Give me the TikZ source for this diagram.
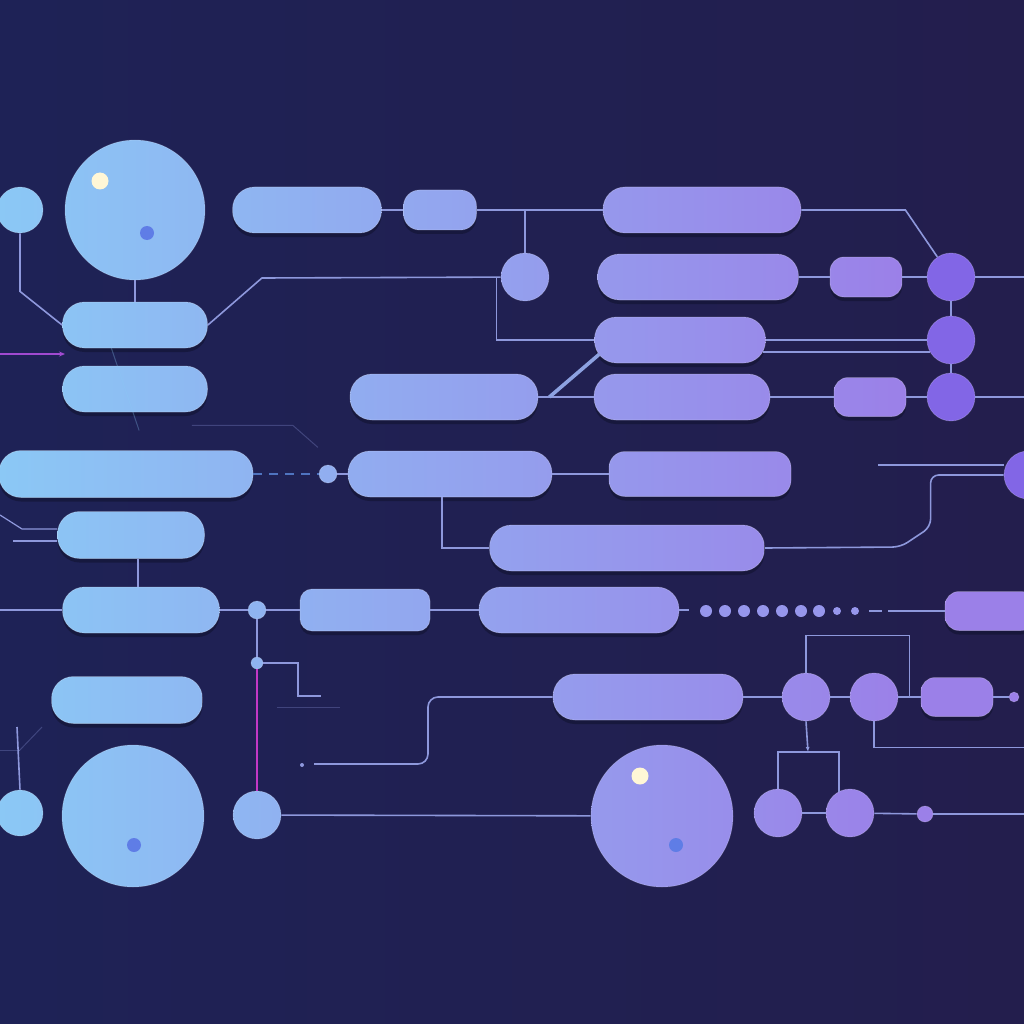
\documentclass[tikz,border=0pt]{standalone}
\usepackage{tikz}
\usetikzlibrary{positioning, calc, shadows, arrows.meta}
\usepackage{xcolor}

\definecolor{bgleft}{HTML}{1E2256}
\definecolor{bgright}{HTML}{231E4D}
\definecolor{skyb}{HTML}{8BC8F5}
\definecolor{viol}{HTML}{9B80E8}
\definecolor{deepv}{HTML}{8266E6}
\definecolor{wirec}{HTML}{8E98DC}
\definecolor{dashc}{HTML}{4F74C0}
\definecolor{magc}{HTML}{C238C6}
\definecolor{arrc}{HTML}{A04AD0}
\definecolor{dotb}{HTML}{5F7DE6}
\definecolor{glint}{HTML}{FFF7D6}
\definecolor{shadc}{HTML}{10122E}

\tikzset{
  pill/.style={rectangle, inner sep=0pt, draw=white, draw opacity=0.22, line width=0.8pt,
    drop shadow={fill=shadc, opacity=0.55, shadow xshift=0pt, shadow yshift=-4pt}},
  knob/.style={circle, inner sep=0pt, draw=white, draw opacity=0.18, line width=0.8pt},
  wire/.style={draw=wirec, line width=1.6pt},
  faint/.style={draw=wirec, line width=1pt, opacity=0.3},
  magline/.style={draw=magc, line width=2.4pt},
}

% pill: name, x, y, width, height, corner radius
\newcommand{\pillnode}[6]{%
  \pgfmathtruncatemacro\pl{min(100,max(0,((#2)-(#4)/2)/9))}%
  \pgfmathtruncatemacro\pr{min(100,max(0,((#2)+(#4)/2)/9))}%
  \node[pill, minimum width=#4, minimum height=#5, rounded corners=#6,
    left color=viol!\pl!skyb, right color=viol!\pr!skyb] (#1) at (#2,#3) {};}
% knob: name, x, y, radius
\newcommand{\knobnode}[4]{%
  \pgfmathtruncatemacro\pl{min(100,max(0,((#2)-(#4))/9))}%
  \pgfmathtruncatemacro\pr{min(100,max(0,((#2)+(#4))/9))}%
  \node[knob, minimum size=2*#4, left color=viol!\pl!skyb, right color=viol!\pr!skyb] (#1) at (#2,#3) {};}

\begin{document}
\begin{tikzpicture}[x=1pt, y=-1pt]
  \shade[left color=bgleft, right color=bgright] (0,0) rectangle (1024,1024);
  \useasboundingbox (0,0) rectangle (1024,1024);
  \clip (0,0) rectangle (1024,1024);

  % top rows
  \knobnode{k1}{20}{210}{23}
  \knobnode{B1}{135}{210}{70}
  \pillnode{p1}{307}{210}{149}{46}{22pt}
  \pillnode{p2}{440}{210}{73}{40}{16pt}
  \pillnode{p3}{702}{210}{198}{46}{22pt}
  \knobnode{k2}{525}{277}{24}
  \pillnode{p4}{698}{277}{201}{46}{22pt}
  \pillnode{p5}{866}{277}{72}{40}{14pt}
  \node[knob, fill=deepv, minimum size=48] (k3) at (951,277) {};
  \pillnode{L1}{135}{325}{145}{46}{22pt}
  \pillnode{p6}{680}{340}{171}{46}{22pt}
  \node[knob, fill=deepv, minimum size=48] (k4) at (951,340) {};
  \pillnode{L2}{135}{389}{145}{46}{22pt}
  \pillnode{p7}{444}{397}{188}{46}{22pt}
  \pillnode{p8}{682}{397}{176}{46}{22pt}
  \pillnode{p9}{870}{397}{72}{39}{14pt}
  \node[knob, fill=deepv, minimum size=48] (k5) at (951,397) {};

  % middle rows
  \pillnode{L3}{126}{474}{254}{47}{22pt}
  \knobnode{d1}{328}{474}{9}
  \pillnode{p10}{450}{474}{204}{46}{22pt}
  \pillnode{p11}{700}{474}{182}{45}{16pt}
  \node[knob, fill=deepv, minimum size=48] (k6) at (1028,475) {};
  \pillnode{L4}{131}{535}{147}{47}{22pt}
  \pillnode{p12}{627}{548}{275}{46}{22pt}
  \pillnode{L5}{141}{610}{157}{46}{22pt}
  \knobnode{d2}{257}{610}{9}
  \pillnode{p13}{365}{610}{130}{42}{12pt}
  \pillnode{p14}{579}{610}{200}{46}{22pt}
  \pillnode{p15}{990}{611}{90}{39}{14pt}
  \knobnode{d3}{257}{663}{6}

  % bottom rows
  \pillnode{L6}{127}{700}{151}{47}{22pt}
  \pillnode{p16}{648}{697}{190}{46}{22pt}
  \knobnode{k7}{806}{697}{24}
  \knobnode{k8}{874}{697}{24}
  \pillnode{p17}{957}{697}{72}{39}{14pt}
  \knobnode{d4}{1014}{697}{5}
  \knobnode{k11}{20}{813}{23}
  \knobnode{B2}{133}{816}{71}
  \knobnode{k12}{257}{815}{24}
  \knobnode{B3}{662}{816}{71}
  \knobnode{k9}{778}{813}{24}
  \knobnode{k10}{850}{813}{24}
  \knobnode{d5}{925}{814}{8}

  % glints and dots on the big circles
  \fill[glint] ($(B1)+(-35,-29)$) circle (8.5);
  \fill[dotb] ($(B1)+(12,23)$) circle (7);
  \fill[dotb] ($(B2)+(1,29)$) circle (7);
  \fill[glint] ($(B3)+(-22,-40)$) circle (8.5);
  \fill[dotb] ($(B3)+(14,29)$) circle (7);

  % free ends
  \coordinate (lin0) at (0,354);
  \coordinate (magend) at (65,354);
  \coordinate (lin1) at (0,515);
  \coordinate (lin2) at (13,541);
  \coordinate (lin3) at (0,610);
  \coordinate (lin4) at (314,764);
  \coordinate (lin5) at (17,727);
  \coordinate (tail) at (878,465);
  \coordinate (dotsend) at (888,611);
  \coordinate (fork) at (808,752);

  % wires, top
  \draw[wire] (k1.south) -- ++(0,58) -- (L1.west);
  \draw[wire] (B1) -- (L1);
  \draw[wire] (L1.east) -- ++(54,-47) -- (k2);
  \draw[wire] ([xshift=-4pt]k2.west) |- (p6.west);
  \draw[wire] (p1.east) -- (p2.west);
  \draw[wire] (p2.east) -- (p3.west);
  \draw[wire] (k2) -- (k2 |- p2.east);
  \draw[wire] (p3.east) -- ++(104,0) -- (k3);
  \draw[wire] (p4.east) -- (p5.west);
  \draw[wire] (p5) -- (k3);
  \draw[wire] (k3.east) -- ++(60,0);
  \draw[wire] (k3) -- (k4);
  \draw[wire] (k4) -- (k5);
  \draw[wire] (p6.east) -- (k4.west);
  \draw[wire] ($(p6.east)+(-3,12)$) -- ($(k4.center)+(-21,12)$);
  \draw[wire] (p7.east) -- (p8.west);
  \draw[draw=wirec!80!skyb, line width=3.6pt] ($(p7.east)+(11,0)$) -- ($(p6.south west)+(5,-9)$);
  \draw[wire] (p8.east) -- (p9.west);
  \draw[wire] (p9) -- (k5);
  \draw[wire] (k5.east) -- ++(60,0);
  \draw[draw=arrc, line width=2pt, -{Stealth[length=6pt, width=5pt]}] (lin0) -- (magend);
  \draw[faint] ($(L2.south east)+(-16,13)$) -- ++(101,0) -- ++(25,22);
  \draw[faint, draw=skyb] ($(L1.south west)+(49,-1)$) -- ++(28,83);

  % wires, middle
  \draw[draw=dashc, line width=1.6pt, dash pattern=on 9pt off 7pt] (L3.east) -- (d1.west);
  \draw[wire] (d1) -- (p10);
  \draw[wire] (p10.east) -- (p11.west);
  \draw[wire] ([xshift=-8pt]p10.south) |- (p12.west);
  \draw[wire, rounded corners=8pt] (k6.west) -- ++(-73,0) -- ++(0,52) -- ++(-30,20) -- (p12.east);
  \draw[wire, line width=1.2pt] (tail) -- (tail -| k6.west);
  \draw[wire, line width=1.2pt] (lin1) -- ++(22,14) -- ([yshift=6pt]L4.west);
  \draw[wire, line width=1.2pt] (lin2) -- ([yshift=-6pt]L4.west);
  \draw[wire] ([xshift=7pt]L4.south) -- ([xshift=-3pt]L5.north);
  \draw[wire] (lin3) -- (L5.west);
  \draw[wire] (L5.east) -- (d2);
  \draw[wire] (d2) -- (p13.west);
  \draw[wire] (p13.east) -- (p14.west);
  \draw[wire] (p14.east) -- ++(10,0);
  \foreach \dx in {706,725,744,763,782,801,819}
    \fill[viol!70!skyb] (\dx,611) circle (6);
  \foreach \dx in {837,855}
    \fill[viol!70!skyb] (\dx,611) circle (4);
  \draw[wire] (869,611) -- (882,611);
  \draw[wire] (dotsend) -- (p15.west);
  \draw[wire] (d2) -- (d3);
  \draw[wire] (d3) -- ++(41,0) -- ++(0,33) -- ++(23,0);
  \draw[faint] ($(d3)+(20,44)$) -- ++(63,0);
  \draw[magline] (d3) -- (k12);

  % wires, bottom
  \fill[wirec] ($(lin4)+(-12,1)$) circle (2);
  \draw[wire, rounded corners=10pt] (lin4) -- ++(114,0) -- ++(0,-67) -- (p16.west);
  \draw[wire] (p16.east) -- (k7);
  \draw[wire] (k7) -- (k8);
  \draw[wire] (k8) -- (p17);
  \draw[wire] (p17) -- (d4);
  \draw[wire] (k7.north) -- ++(0,-37) -| ($(k8.east)!0.5!(p17.west)$);
  \draw[wire] (k8.south) |- ++(160,26);
  \draw[wire, -{Latex[length=5pt, width=4pt]}] (k7.south) -- (fork);
  \draw[wire] (k9.north) |- (fork) -| ([xshift=-11pt, yshift=-3pt]k10.north);
  \draw[wire] (lin5) -- (k11.north);
  \draw[faint] ($(lin5)+(25,0)$) -- ++(-24,25);
  \draw[faint] ($(lin5)+(-17,23)$) -- ++(20,0);
  \draw[wire] (k12) -- (B3);
  \draw[wire] (k9) -- (k10);
  \draw[wire] (k10) -- (d5);
  \draw[wire] (d5.east) -- ++(100,0);
\end{tikzpicture}
\end{document}
